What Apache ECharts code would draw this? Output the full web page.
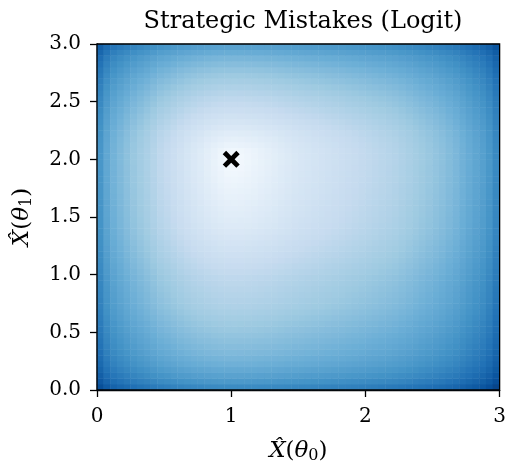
<!DOCTYPE html>
<html>
<head>
<meta charset="utf-8">
<script src="https://cdn.jsdelivr.net/npm/echarts@6/dist/echarts.min.js"></script>
<style>html,body{margin:0;padding:0;background:#fff}#c{width:509px;height:469px}</style>
</head>
<body>
<div id="c"></div>
<script>
// Colour level (0 = white, 1 = darkest blue) read along the row through y=2, for 60 cells left to right
const xProfile = [0.58,0.51,0.46,0.43,0.40,0.37,0.345,0.32,0.29,0.26,
  0.24,0.215,0.19,0.165,0.14,0.12,0.095,0.07,0.045,0.02,
  0.01,0.025,0.04,0.055,0.07,0.085,0.10,0.115,0.13,0.145,
  0.155,0.165,0.175,0.185,0.195,0.205,0.215,0.225,0.235,0.245,
  0.255,0.265,0.275,0.285,0.295,0.31,0.325,0.34,0.355,0.37,
  0.385,0.40,0.42,0.44,0.465,0.49,0.515,0.54,0.575,0.63];
// Colour level read along the column through x=1, for 60 cells bottom to top
const yProfile = [0.62,0.57,0.53,0.50,0.47,0.45,0.43,0.415,0.40,0.385,
  0.37,0.355,0.34,0.325,0.31,0.30,0.29,0.28,0.27,0.26,
  0.245,0.23,0.215,0.20,0.185,0.17,0.155,0.14,0.125,0.115,
  0.105,0.095,0.085,0.075,0.065,0.055,0.045,0.035,0.025,0.01,
  0.015,0.03,0.06,0.085,0.11,0.14,0.165,0.19,0.215,0.24,
  0.26,0.285,0.31,0.335,0.36,0.385,0.415,0.445,0.485,0.53];
const markerPoint = [[1, 2]];
const xTickLabels = ['0', '1', '2', '3'];
const yTickLabels = ['0.0', '0.5', '1.0', '1.5', '2.0', '2.5', '3.0'];
const titleText = 'Strategic Mistakes (Logit)';
const blues = ['#f7fbff','#deebf7','#c6dbef','#9ecae1','#6baed6','#4292c6','#2171b5','#08519c','#08306b'];

const xCats = xProfile.map((_, i) => String(i));
const yCats = yProfile.map((_, j) => String(j));
const cells = [];
xProfile.forEach((a, i) => {
  yProfile.forEach((b, j) => {
    cells.push([i, j, Math.hypot(a, b)]);
  });
});

const FONT = 'DejaVu Serif';
const nameRich = {
  i: {fontFamily: FONT, fontStyle: 'italic', fontSize: 23, color: '#000'},
  n: {fontFamily: FONT, fontSize: 23, color: '#000'},
  s: {fontFamily: FONT, fontSize: 16, color: '#000', padding: [10, 0, 0, 0]}
};
const chart = echarts.init(document.getElementById('c'), null, {renderer: 'canvas'});
chart.setOption({
  animation: false,
  backgroundColor: '#ffffff',
  title: {
    text: titleText, left: 298, top: 5, textAlign: 'center',
    textStyle: {fontFamily: FONT, fontSize: 24, fontWeight: 'normal', color: '#000'}
  },
  grid: {left: 97, right: 7, top: 44, bottom: 76, show: true, borderColor: '#000', borderWidth: 1.3, backgroundColor: 'transparent', z: 10},
  visualMap: {show: false, type: 'continuous', min: 0, max: 0.96, dimension: 2, seriesIndex: 0, inRange: {color: blues}},
  xAxis: [
    {type: 'category', data: xCats, show: false, boundaryGap: true},
    {type: 'value', min: 0, max: 3, interval: 1, position: 'bottom',
     axisLine: {show: true, lineStyle: {color: '#000', width: 1.3}},
     axisTick: {show: true, inside: false, length: 7, lineStyle: {color: '#000', width: 1.3}},
     splitLine: {show: false},
     axisLabel: {color: '#000', fontFamily: FONT, fontSize: 20, margin: 17,
       formatter: v => xTickLabels[Math.round(v)]},
     name: '{i|X\u0302}{n|(}{i|\u03b8}{s|0}{n|)}', nameLocation: 'middle', nameGap: 48,
     nameTextStyle: {rich: nameRich}
    }
  ],
  yAxis: [
    {type: 'category', data: yCats, show: false, boundaryGap: true},
    {type: 'value', min: 0, max: 3, interval: 0.5, position: 'left',
     axisLine: {show: true, lineStyle: {color: '#000', width: 1.3}},
     axisTick: {show: true, inside: false, length: 7, lineStyle: {color: '#000', width: 1.3}},
     splitLine: {show: false},
     axisLabel: {color: '#000', fontFamily: FONT, fontSize: 20, margin: 16,
       formatter: v => yTickLabels[Math.round(v * 2)]},
     name: '{i|X\u0302}{n|(}{i|\u03b8}{s|1}{n|)}', nameLocation: 'middle', nameGap: 62, nameRotate: 90,
     nameTextStyle: {rich: nameRich}
    }
  ],
  series: [
    {type: 'heatmap', xAxisIndex: 0, yAxisIndex: 0, data: cells, itemStyle: {borderWidth: 0}, emphasis: {disabled: true}},
    {type: 'scatter', xAxisIndex: 1, yAxisIndex: 1, data: markerPoint, z: 20,
     symbol: 'path://M2,0 L5,3 L8,0 L10,2 L7,5 L10,8 L8,10 L5,7 L2,10 L0,8 L3,5 L0,2 Z',
     symbolSize: 17, itemStyle: {color: '#000', opacity: 1}}
  ]
});
</script>
</body>
</html>
